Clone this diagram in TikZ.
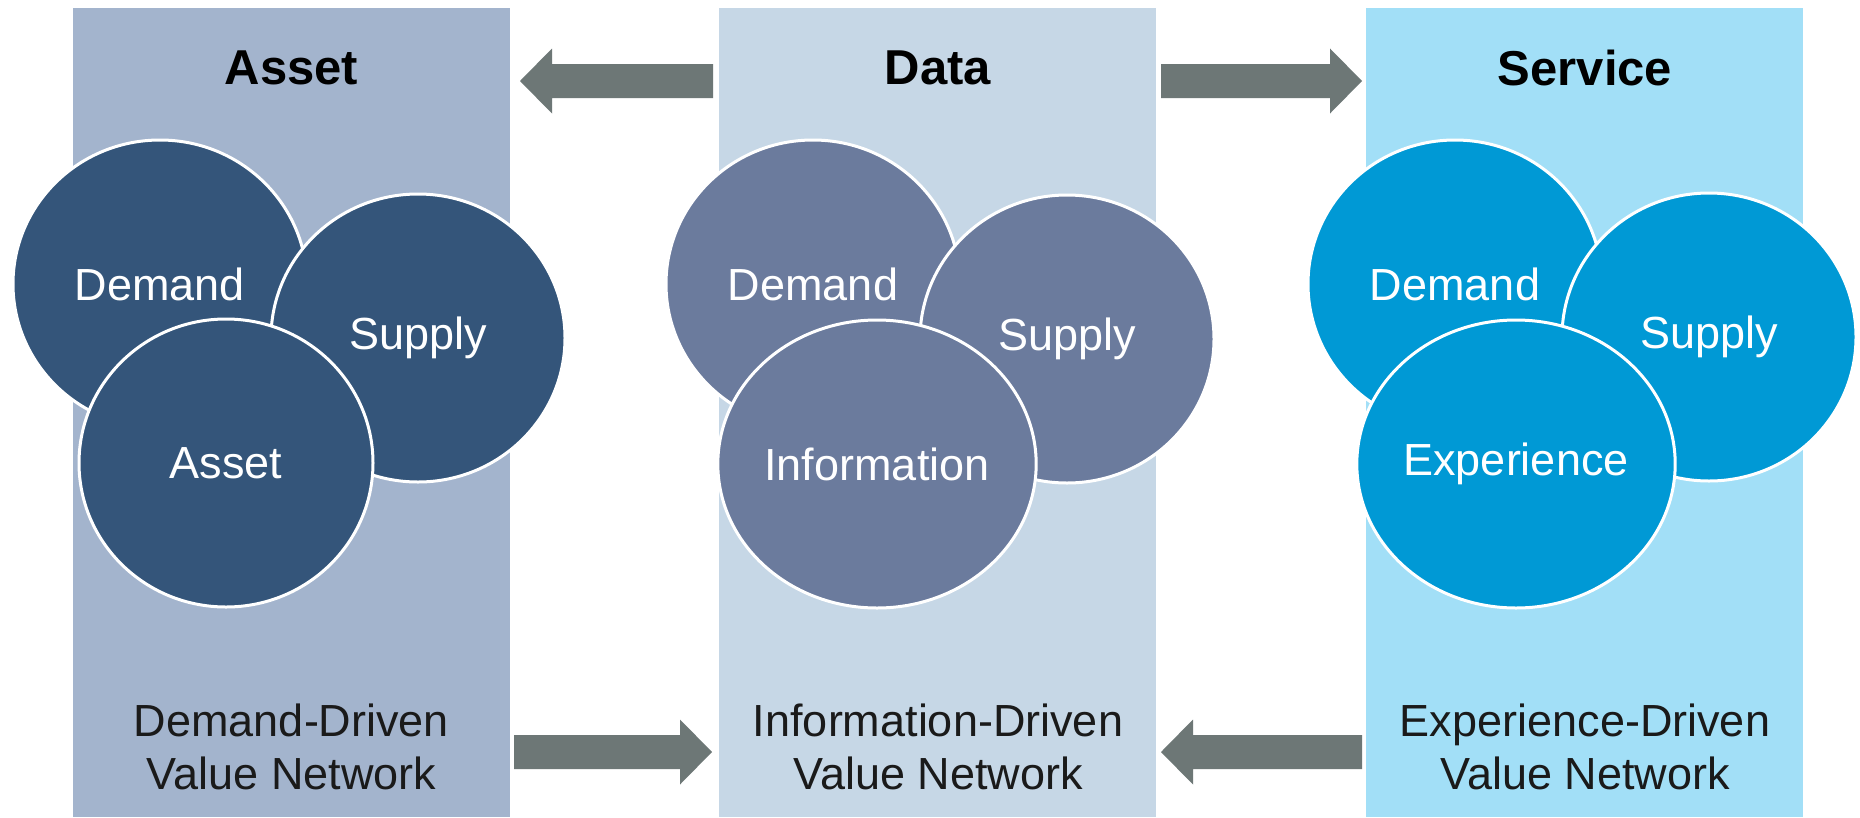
\documentclass[tikz,border=0pt]{standalone}
\usepackage{fontspec}
\setmainfont{Liberation Sans}
\usetikzlibrary{calc,shapes.geometric}

\definecolor{assetpanel}{HTML}{A3B4CD}
\definecolor{datapanel}{HTML}{C6D7E6}
\definecolor{servicepanel}{HTML}{A2DFF7}
\definecolor{assetdisc}{HTML}{34557A}
\definecolor{datadisc}{HTML}{6B7B9D}
\definecolor{servicedisc}{HTML}{0099D5}
\definecolor{arrowgray}{HTML}{6D7776}
\definecolor{captiontext}{HTML}{1A1A1A}

\tikzset{
  panel/.style={draw=none, rectangle, inner sep=0pt, minimum width=437pt, minimum height=809pt, anchor=north west},
  disc/.style={ellipse, draw=white, line width=3pt, minimum width=294pt, minimum height=288pt, inner sep=0pt,
               text=white, font=\fontsize{45}{54}\selectfont},
  heading/.style={font=\fontsize{49}{58}\selectfont\bfseries, text=black},
  caption/.style={font=\fontsize{45}{53}\selectfont, text=captiontext, align=center},
}

% horizontal block arrow from #1 (tail) to #2 (tip)
\newcommand\blockarrow[2]{%
  \fill[arrowgray] let \p1=(#1), \p2=(#2), \n1={sign(\x2-\x1)*32} in
    (\x1,\y1+17pt) -- (\x2-\n1,\y1+17pt) -- (\x2-\n1,\y1+32.5pt) -- (\x2,\y2)
    -- (\x2-\n1,\y1-32.5pt) -- (\x2-\n1,\y1-17pt) -- (\x1,\y1-17pt) -- cycle;}

\begin{document}
\begin{tikzpicture}[x=1pt,y=-1pt]
  \useasboundingbox (0,0) rectangle (1860,817);
  \fill[white] (0,0) rectangle (1860,817);

  % the three columns
  \node[panel, fill=assetpanel]   (p1) at (73,8)   {};
  \node[panel, fill=datapanel]    (p2) at (719,8)  {};
  \node[panel, fill=servicepanel] (p3) at (1366,8) {};

  % column headings
  \node[heading] (h1) at (291.5,68) {Asset};
  \node[heading] (h2) at (938,68)   {Data};
  \node[heading] (h3) at (1585,68)  {Service};

  % asset-driven network
  \node[disc, fill=assetdisc] (d1) at (160,284) {Demand};
  \node[disc, fill=assetdisc] (s1) at (418,338) {Supply};
  \node[disc, fill=assetdisc] (a1) at (226,463) {Asset};

  % information-driven network
  \node[disc, fill=datadisc] (d2) at (813,284)  {Demand};
  \node[disc, fill=datadisc] (s2) at (1067,339) {Supply};
  \node[disc, fill=datadisc] (i2) at (877,464)  {Information};

  % experience-driven network
  \node[disc, fill=servicedisc] (d3) at (1455,284) {Demand};
  \node[disc, fill=servicedisc] (s3) at (1709,337) {Supply};
  \node[disc, fill=servicedisc] (e3) at (1516,464) {Experience};

  % captions
  \node[caption] (c1) at (291.5,746.5) {Demand-Driven\\Value Network};
  \node[caption] (c2) at (938,746.5)   {Information-Driven\\Value Network};
  \node[caption] (c3) at (1585,746.5)  {Experience-Driven\\Value Network};

  % arrow ends between the columns
  \coordinate (top21) at (713,81);
  \coordinate (top12) at (520,81);
  \coordinate (top23) at (1161,81);
  \coordinate (top32) at (1362,81);
  \coordinate (bot12) at (514,752);
  \coordinate (bot21) at (712,752);
  \coordinate (bot32) at (1362,752);
  \coordinate (bot23) at (1161,752);

  \blockarrow{top21}{top12}
  \blockarrow{top23}{top32}
  \blockarrow{bot12}{bot21}
  \blockarrow{bot32}{bot23}
\end{tikzpicture}
\end{document}
